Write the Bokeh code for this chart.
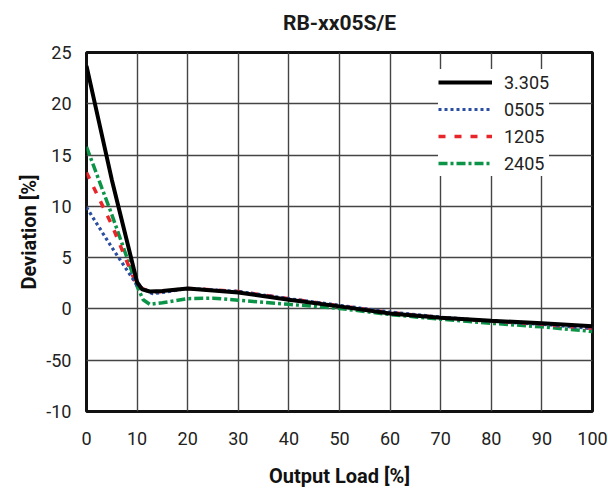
from bokeh.plotting import figure
from bokeh.models import Legend, LegendItem, FixedTicker, Title
from bokeh.embed import file_html
from bokeh.resources import INLINE

# Data
x_black = [0, 5, 10, 11, 12.5, 15, 20, 30, 40, 50, 60, 70, 80, 90, 100]
y_black = [23.7, 12.6, 2.6, 1.9, 1.7, 1.75, 2.0, 1.6, 0.9, 0.25, -0.45, -0.85, -1.15, -1.4, -1.7]

x_blue = [0, 5, 10, 13, 15, 20, 30, 40, 50, 60, 70, 80, 90, 100]
y_blue = [9.9, 6.0, 2.3, 1.5, 1.6, 2.0, 1.7, 1.0, 0.35, -0.3, -0.8, -1.2, -1.5, -1.9]

x_red = [0, 5, 10, 13, 15, 20, 30, 40, 50, 60, 70, 80, 90, 100]
y_red = [13.3, 8.2, 2.2, 1.6, 1.7, 2.0, 1.7, 1.0, 0.3, -0.35, -0.85, -1.2, -1.5, -1.9]

x_green = [0, 5, 10, 11.2, 12.5, 15, 20, 25, 30, 40, 50, 60, 70, 80, 90, 100]
y_green = [15.8, 9.2, 2.2, 0.9, 0.45, 0.6, 1.0, 1.05, 0.85, 0.45, 0.05, -0.55, -1.0, -1.4, -1.75, -2.2]

series_names = ["3.305", "0505", "1205", "2405"]
x_ticks = [0, 10, 20, 30, 40, 50, 60, 70, 80, 90, 100]
y_ticks = [-10, -5, 0, 5, 10, 15, 20, 25]
y_tick_labels = ["-10", "-50", "0", "5", "10", "15", "20", "25"]
title_text = "RB-xx05S/E"

FONT = "Roboto"

p = figure(width=608, height=493, output_backend="svg", toolbar_location=None,
           x_range=(0, 100), y_range=(-10, 25))
p.title = None
p.min_border_left = 86
p.min_border_right = 16
p.min_border_top = 52
p.min_border_bottom = 82

# spacer between frame and title, then the title itself
p.add_layout(Title(text=" ", text_font_size="1px"), "above")
p.add_layout(Title(text=title_text, align="center", text_font=FONT,
                   text_font_size="21px", text_font_style="bold",
                   text_color="#1a1a1a"), "above")

p.outline_line_color = "#111111"
p.outline_line_width = 3

for ax in (p.xaxis[0], p.yaxis[0]):
    ax.axis_line_color = None
    ax.major_tick_line_color = None
    ax.minor_tick_line_color = None
    ax.major_label_text_font = FONT
    ax.major_label_text_font_size = "18px"
    ax.major_label_text_color = "#222222"
    ax.axis_label_text_font = FONT
    ax.axis_label_text_font_size = "20px"
    ax.axis_label_text_font_style = "bold"
    ax.axis_label_text_color = "#111111"

p.xaxis.ticker = FixedTicker(ticks=x_ticks)
p.yaxis.ticker = FixedTicker(ticks=y_ticks)
p.yaxis.major_label_overrides = {t: l for t, l in zip(y_ticks, y_tick_labels)}
p.xaxis.axis_label = "Output Load [%]"
p.yaxis.axis_label = "Deviation [%]"
p.xaxis.major_label_standoff = 14
p.yaxis.major_label_standoff = 9
p.xaxis.axis_label_standoff = 16
p.yaxis.axis_label_standoff = 2

p.xgrid.ticker = FixedTicker(ticks=x_ticks)
p.ygrid.ticker = FixedTicker(ticks=y_ticks)
for g in (p.xgrid[0], p.ygrid[0]):
    g.grid_line_color = "#444444"
    g.grid_line_width = 1.4

r_green = p.line(x_green, y_green, line_color="#0b9447", line_width=3.5, line_dash="9 3 3 3")
r_red = p.line(x_red, y_red, line_color="#e8262a", line_width=3.5, line_dash="7 9")
r_blue = p.line(x_blue, y_blue, line_color="#2a4ea0", line_width=3.2, line_dash="3 3")
r_black = p.line(x_black, y_black, line_color="#000000", line_width=4)

legend = Legend(items=[
    LegendItem(label=series_names[0], renderers=[r_black]),
    LegendItem(label=series_names[1], renderers=[r_blue]),
    LegendItem(label=series_names[2], renderers=[r_red]),
    LegendItem(label=series_names[3], renderers=[r_green]),
], location=(352, 235))
legend.border_line_color = None
legend.background_fill_color = "white"
legend.background_fill_alpha = 1
legend.label_text_font = FONT
legend.label_text_font_size = "18px"
legend.label_text_color = "#222222"
legend.glyph_width = 54
legend.glyph_height = 26
legend.label_standoff = 12
legend.spacing = 1
legend.margin = 0
legend.padding = 10
p.add_layout(legend)

open("out.html", "w").write(file_html(p, INLINE))
